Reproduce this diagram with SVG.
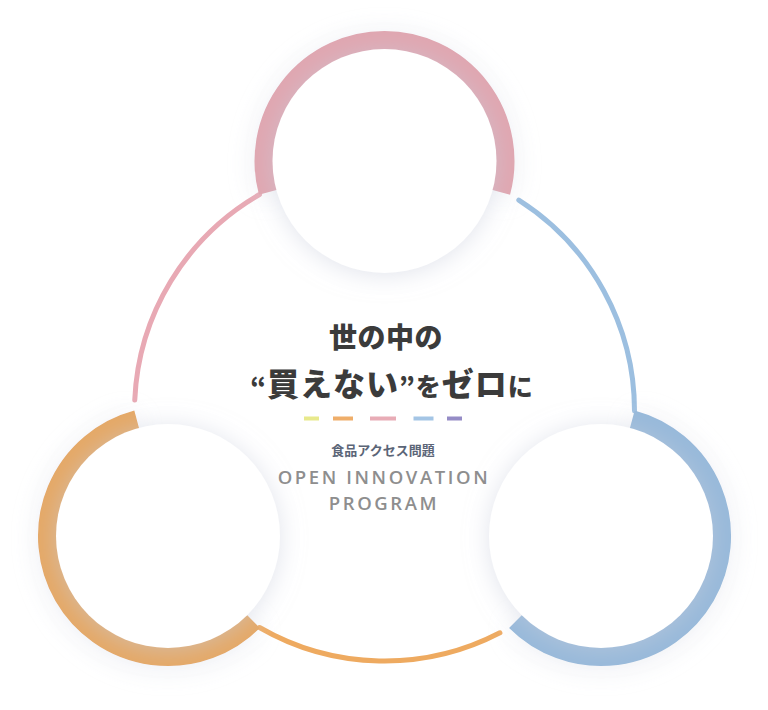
<svg xmlns="http://www.w3.org/2000/svg" width="768" height="710" viewBox="0 0 768 710">
  <defs>
    <filter id="sh" x="-40%" y="-40%" width="180%" height="180%">
      <feGaussianBlur in="SourceAlpha" stdDeviation="12"/>
      <feOffset dx="0" dy="2" result="b"/>
      <feFlood flood-color="#c8cddc" flood-opacity="0.55"/>
      <feComposite in2="b" operator="in"/>
      <feMerge><feMergeNode/><feMergeNode in="SourceGraphic"/></feMerge>
    </filter>
    <filter id="rs" x="-40%" y="-40%" width="180%" height="180%">
      <feGaussianBlur in="SourceAlpha" stdDeviation="14"/>
      <feOffset dx="0" dy="3" result="b"/>
      <feFlood flood-color="#d6dae6" flood-opacity="0.45"/>
      <feComposite in2="b" operator="in"/>
      <feMerge><feMergeNode/><feMergeNode in="SourceGraphic"/></feMerge>
    </filter>
    <style>
      .ln{fill:none;stroke-width:5;stroke-linecap:round}
      .ring{fill:none;stroke-width:20;stroke-linecap:butt;filter:url(#rs)}
      .face{fill:#ffffff;filter:url(#sh)}
      .jp{font-family:"Noto Sans CJK JP","Noto Sans",sans-serif;font-weight:900;fill:#3b3b3b}
      .en{font-family:"Open Sans","Liberation Sans",sans-serif;font-weight:600;fill:#8e8e8e;font-size:18.5px;letter-spacing:2.6px}
    </style>
  </defs>
  <rect width="768" height="710" fill="#ffffff"/>

  <g id="connectors">
    <path class="ln" stroke="#e8a9b4" d="M259.5,194.5 A250,250 0 0 0 134.74,400.1"/>
    <path class="ln" stroke="#9cbfe0" d="M518.8,200.1 A250,250 0 0 1 634.5,411"/>
    <path class="ln" stroke="#eeaa60" d="M499.9,632.8 A250,250 0 0 1 259.5,627.5"/>
  </g>

  <g id="node-top">
    <path class="ring" stroke="#e0a6b0" d="M268.6,192.1 A120,120 0 1 1 500.4,192.1"/>
    <circle class="face" cx="384.5" cy="161" r="112"/>
  </g>
  <g id="node-left">
    <path class="ring" stroke="#e5a865" d="M252.85,620.85 A120,120 0 1 1 136.9,420.1"/>
    <circle class="face" cx="168" cy="536" r="112"/>
  </g>
  <g id="node-right">
    <path class="ring" stroke="#97b9da" d="M632.06,420.1 A120,120 0 1 1 516.15,620.85"/>
    <circle class="face" cx="601" cy="536" r="112"/>
  </g>

  <g id="center">
    <text class="jp" x="386" y="348" font-size="28" letter-spacing="0.5" text-anchor="middle">世の中の</text>
    <text class="jp" x="392" y="396" letter-spacing="1" text-anchor="middle"><tspan font-size="25">“</tspan><tspan font-size="32">買えない</tspan><tspan font-size="25">”を</tspan><tspan font-size="32">ゼロ</tspan><tspan font-size="25">に</tspan></text>
    <rect x="304" y="416.5" width="15" height="4" fill="#e8e98c"/>
    <rect x="333" y="416.5" width="20" height="4" fill="#efae6a"/>
    <rect x="370" y="416.5" width="26" height="4" fill="#e8acb6"/>
    <rect x="413.5" y="416.5" width="20" height="4" fill="#a4c5e5"/>
    <rect x="447" y="416.5" width="15" height="4" fill="#958cc6"/>
    <text x="383" y="454.5" font-family="Noto Sans CJK JP, Noto Sans, sans-serif" font-weight="700" font-size="13" fill="#5b6577" text-anchor="middle">食品アクセス問題</text>
    <text class="en" x="384" y="484" text-anchor="middle">OPEN INNOVATION</text>
    <text class="en" x="384" y="510" text-anchor="middle">PROGRAM</text>
  </g>
</svg>
